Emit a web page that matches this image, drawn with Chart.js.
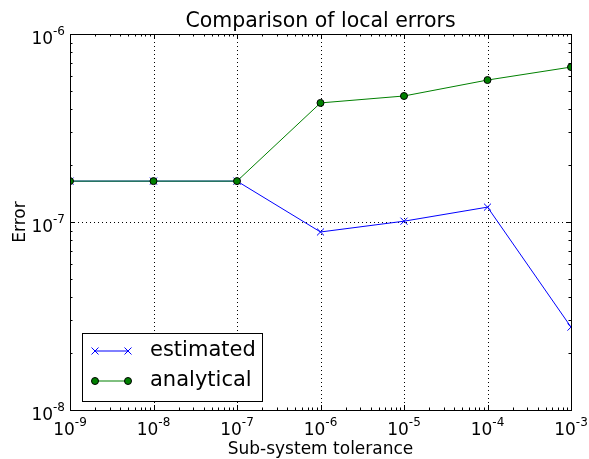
<!DOCTYPE html>
<html lang="en">

<head>
  <meta charset="UTF-8">
  <title>Comparison of local errors</title>
  <script src="https://cdn.jsdelivr.net/npm/chart.js"></script>
  <style>
    html, body { margin: 0; padding: 0; background: #fff; }
  </style>
</head>

<body>
  <canvas id="errChart" width="589" height="459"></canvas>

  <script>
    // sub-system tolerance (x) and local errors (y)
    const tolerances = [1e-9, 1e-8, 1e-7, 1e-6, 1e-5, 1e-4, 1e-3];
    const estimated = [1.65e-7, 1.65e-7, 1.65e-7, 8.85e-8, 1.01e-7, 1.2e-7, 2.76e-8];
    const analytical = [1.65e-7, 1.65e-7, 1.65e-7, 4.3e-7, 4.68e-7, 5.69e-7, 6.67e-7];
    const xTickExps = [-9, -8, -7, -6, -5, -4, -3];
    const yTickExps = [-8, -7, -6];

    const FONT = '"DejaVu Sans", sans-serif';

    function toPoints(ys) {
      return tolerances.map((x, i) => ({ x: x, y: ys[i] }));
    }

    // draws "10" with a raised exponent, like matplotlib's log labels
    function drawPow(ctx, exp, x, y, align) {
      ctx.font = '17px ' + FONT;
      const base = '10';
      const bw = ctx.measureText(base).width;
      ctx.font = '12px ' + FONT;
      const sup = String(exp);
      const sw = ctx.measureText(sup).width;
      const total = bw + sw;
      let left = x;
      if (align === 'center') left = x - total / 2;
      if (align === 'right') left = x - total;
      ctx.textAlign = 'left';
      ctx.textBaseline = 'alphabetic';
      ctx.fillStyle = '#000';
      ctx.font = '17px ' + FONT;
      ctx.fillText(base, left, y);
      ctx.font = '12px ' + FONT;
      ctx.fillText(sup, left + bw, y - 9);
    }

    const gridPlugin = {
      id: 'mplGrid',
      beforeDatasetsDraw(chart) {
        const { ctx, chartArea: a, scales } = chart;
        ctx.save();
        ctx.strokeStyle = '#000';
        ctx.lineWidth = 1;
        ctx.setLineDash([1, 3]);
        xTickExps.forEach(e => {
          const px = Math.round(scales.x.getPixelForValue(Math.pow(10, e))) + 0.5;
          ctx.beginPath();
          ctx.moveTo(px, a.top);
          ctx.lineTo(px, a.bottom);
          ctx.stroke();
        });
        yTickExps.forEach(e => {
          const py = Math.round(scales.y.getPixelForValue(Math.pow(10, e))) + 0.5;
          ctx.beginPath();
          ctx.moveTo(a.left, py);
          ctx.lineTo(a.right, py);
          ctx.stroke();
        });
        ctx.restore();
      },
      afterDatasetsDraw(chart) {
        const { ctx, chartArea: a, scales } = chart;
        ctx.save();
        ctx.setLineDash([]);
        ctx.strokeStyle = '#000';
        ctx.lineWidth = 1;

        // ticks, inside, on all four sides
        const tick = (x1, y1, x2, y2) => {
          ctx.beginPath();
          ctx.moveTo(x1, y1);
          ctx.lineTo(x2, y2);
          ctx.stroke();
        };
        for (let e = -9; e <= -3; e++) {
          for (let m = 1; m <= 9; m++) {
            const v = m * Math.pow(10, e);
            if (v > 1.0001e-3) break;
            const len = m === 1 ? 5 : 2.5;
            const px = Math.round(scales.x.getPixelForValue(v)) + 0.5;
            tick(px, a.bottom, px, a.bottom - len);
            tick(px, a.top, px, a.top + len);
          }
        }
        for (let e = -8; e <= -6; e++) {
          for (let m = 1; m <= 9; m++) {
            const v = m * Math.pow(10, e);
            if (v > 1.0001e-6) break;
            const len = m === 1 ? 5 : 2.5;
            const py = Math.round(scales.y.getPixelForValue(v)) + 0.5;
            tick(a.left, py, a.left + len, py);
            tick(a.right, py, a.right - len, py);
          }
        }

        // axes frame
        ctx.strokeRect(Math.round(a.left) + 0.5, Math.round(a.top) + 0.5,
          Math.round(a.right - a.left), Math.round(a.bottom - a.top));

        // tick labels
        xTickExps.forEach(e => {
          drawPow(ctx, e, scales.x.getPixelForValue(Math.pow(10, e)), a.bottom + 25, 'center');
        });
        yTickExps.forEach(e => {
          drawPow(ctx, e, a.left - 5, scales.y.getPixelForValue(Math.pow(10, e)) + 9.5, 'right');
        });

        // titles
        ctx.fillStyle = '#000';
        ctx.textAlign = 'center';
        ctx.textBaseline = 'alphabetic';
        ctx.font = '20.5px ' + FONT;
        ctx.fillText('Comparison of local errors', (a.left + a.right) / 2, 27);
        ctx.font = '17px ' + FONT;
        ctx.fillText('Sub-system tolerance', (a.left + a.right) / 2, 454);
        ctx.save();
        ctx.translate(25, (a.top + a.bottom) / 2);
        ctx.rotate(-Math.PI / 2);
        ctx.fillText('Error', 0, 0);
        ctx.restore();

        // legend box (lower left, inside axes)
        const lx = a.left + 12, ly = a.bottom - 77, lw = 180, lh = 68;
        ctx.fillStyle = '#fff';
        ctx.fillRect(lx, ly, lw, lh);
        ctx.strokeStyle = '#000';
        ctx.strokeRect(lx + 0.5, ly + 0.5, lw, lh);
        chart.data.datasets.forEach((ds, i) => {
          const ry = ly + 18 + i * 30;
          const x1 = lx + 13, x2 = lx + 46;
          ctx.strokeStyle = ds.borderColor;
          ctx.lineWidth = 1;
          ctx.beginPath();
          ctx.moveTo(x1, ry);
          ctx.lineTo(x2, ry);
          ctx.stroke();
          [x1, x2].forEach(mx => {
            if (ds.pointStyle === 'crossRot') {
              ctx.strokeStyle = ds.borderColor;
              tick(mx - 3.5, ry - 3.5, mx + 3.5, ry + 3.5);
              tick(mx - 3.5, ry + 3.5, mx + 3.5, ry - 3.5);
            } else {
              ctx.fillStyle = ds.pointBackgroundColor;
              ctx.strokeStyle = '#000';
              ctx.beginPath();
              ctx.arc(mx, ry, 3.5, 0, Math.PI * 2);
              ctx.fill();
              ctx.stroke();
            }
          });
          ctx.fillStyle = '#000';
          ctx.textAlign = 'left';
          ctx.textBaseline = 'middle';
          ctx.font = '21px ' + FONT;
          ctx.fillText(ds.label, lx + 68, ry);
        });
        ctx.restore();
      }
    };

    const ctx = document.getElementById('errChart').getContext('2d');
    new Chart(ctx, {
      type: 'line',
      data: {
        datasets: [{
          label: 'estimated',
          data: toPoints(estimated),
          borderColor: '#0000ff',
          borderWidth: 1,
          pointStyle: 'crossRot',
          pointRadius: 5,
          pointBorderColor: '#0000ff',
          pointBorderWidth: 1,
          pointBackgroundColor: '#0000ff',
          fill: false,
          tension: 0,
          clip: 0,
          order: 2
        }, {
          label: 'analytical',
          data: toPoints(analytical),
          borderColor: '#008000',
          borderWidth: 1,
          pointStyle: 'circle',
          pointRadius: 3.5,
          pointBorderColor: '#000000',
          pointBorderWidth: 1,
          pointBackgroundColor: '#008000',
          fill: false,
          tension: 0,
          clip: 0,
          order: 1
        }]
      },
      options: {
        responsive: false,
        animation: false,
        devicePixelRatio: 1,
        layout: { padding: { left: 70, right: 18, top: 34, bottom: 49 } },
        plugins: {
          legend: { display: false },
          tooltip: { enabled: false }
        },
        scales: {
          x: { type: 'logarithmic', min: 1e-9, max: 1e-3, display: false },
          y: { type: 'logarithmic', min: 1e-8, max: 1e-6, display: false }
        }
      },
      plugins: [gridPlugin]
    });
  </script>
</body>

</html>
